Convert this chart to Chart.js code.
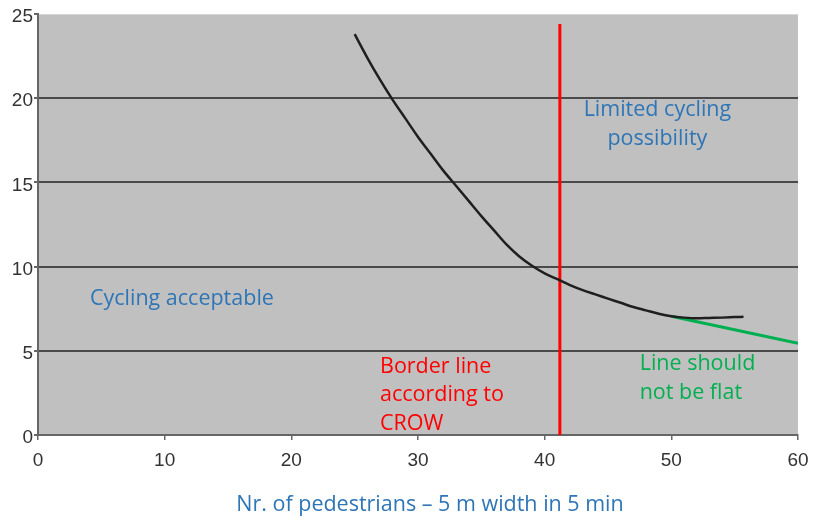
<!DOCTYPE html>
<html>
<head>
<meta charset="utf-8">
<script src="https://cdn.jsdelivr.net/npm/chart.js@4"></script>
<style>
  html, body { margin: 0; padding: 0; background: #fff; }
  #wrap { width: 824px; height: 521px; }
</style>
</head>
<body>
<div id="wrap"><canvas id="chart" width="824" height="521"></canvas></div>
<script>
// --- data ---
const curveX = [25, 26, 27, 28, 29, 30, 31, 32, 33, 34, 35, 36, 37, 38, 39, 40, 41, 42, 43, 44, 45, 46, 47, 48, 49, 50, 51, 52, 53, 54, 55, 55.7];
const curveY = [23.8, 22.4, 21.1, 19.9, 18.8, 17.7, 16.7, 15.7, 14.8, 13.9, 13.0, 12.15, 11.3, 10.6, 10.05, 9.6, 9.25, 8.9, 8.6, 8.35, 8.1, 7.85, 7.6, 7.4, 7.2, 7.05, 6.97, 6.93, 6.95, 6.97, 7.0, 7.02];
const borderX = [41.2, 41.2];
const borderY = [0, 24.4];
const greenX = [50, 60];
const greenY = [7.05, 5.45];

const xTicks = [0, 10, 20, 30, 40, 50, 60];
const yTicks = [0, 5, 10, 15, 20, 25];

const xTitle = 'Nr. of pedestrians \u2013 5 m width in 5 min';

// text boxes inside the plot
const notes = [
    { lines: ['Limited cycling', 'possibility'], x: 48.9, y: 19.3, color: '#2e75b6', align: 'center' },
    { lines: ['Cycling acceptable'], x: 4.1, y: 8.1, color: '#2e75b6', align: 'left' },
    { lines: ['Border line', 'according to', 'CROW'], x: 27.0, y: 4.05, color: '#ff0000', align: 'left' },
    { lines: ['Line should', 'not be flat'], x: 47.5, y: 4.2, color: '#00b050', align: 'left' }
];

const pts = (xs, ys) => xs.map((x, i) => ({ x, y: ys[i] }));

const textFont = '21.5px "Open Sans", Lato, sans-serif';
const tickFont = { size: 19, family: '"Liberation Sans", Arial, sans-serif' };

const plotBackground = {
    id: 'plotBackground',
    beforeDraw(chart) {
        const { ctx, chartArea: a } = chart;
        ctx.save();
        ctx.fillStyle = '#c0c0c0';
        ctx.fillRect(a.left, a.top, a.right - a.left, a.bottom - a.top);
        ctx.strokeStyle = '#d8d8d8';
        ctx.lineWidth = 1;
        ctx.beginPath();
        ctx.moveTo(a.left, a.top + 0.5);
        ctx.lineTo(a.right, a.top + 0.5);
        ctx.stroke();
        ctx.restore();
    }
};

const notesPlugin = {
    id: 'notes',
    afterDraw(chart) {
        const { ctx, scales: { x, y }, chartArea: a } = chart;
        ctx.save();
        ctx.font = textFont;
        ctx.textBaseline = 'middle';
        notes.forEach(n => {
            ctx.fillStyle = n.color;
            ctx.textAlign = n.align;
            const px = x.getPixelForValue(n.x);
            const py = y.getPixelForValue(n.y);
            n.lines.forEach((line, i) => ctx.fillText(line, px, py + i * 28.5));
        });
        // axis title
        ctx.fillStyle = '#2e75b6';
        ctx.textAlign = 'center';
        ctx.fillText(xTitle, (a.left + a.right) / 2 + 12, 505);
        ctx.restore();
    }
};

new Chart(document.getElementById('chart'), {
    type: 'line',
    data: {
        datasets: [
            {
                data: pts(curveX, curveY),
                borderColor: '#1f1f1f',
                borderWidth: 2.5,
                pointRadius: 0,
                cubicInterpolationMode: 'monotone'
            },
            {
                data: pts(borderX, borderY),
                borderColor: '#ff0000',
                borderWidth: 3,
                pointRadius: 0
            },
            {
                data: pts(greenX, greenY),
                borderColor: '#00b050',
                borderWidth: 3,
                pointRadius: 0
            }
        ]
    },
    options: {
        responsive: false,
        animation: false,
        layout: { padding: { top: 14, right: 26, left: 0, bottom: 0 } },
        plugins: { legend: { display: false }, tooltip: { enabled: false } },
        scales: {
            x: {
                type: 'linear',
                min: 0,
                max: 60,
                afterBuildTicks: s => { s.ticks = xTicks.map(v => ({ value: v })); },
                afterFit: s => { s.height = 86; },
                ticks: { color: '#333', font: tickFont, padding: 9, maxRotation: 0 },
                grid: { color: 'transparent', tickColor: '#666', tickLength: 5, lineWidth: 1.5 },
                border: { display: true, color: '#666', width: 2 }
            },
            y: {
                min: 0,
                max: 25,
                afterBuildTicks: s => { s.ticks = yTicks.map(v => ({ value: v })); },
                afterFit: s => { s.width = 38; },
                ticks: { color: '#333', font: tickFont, padding: 1, labelOffset: 3 },
                grid: {
                    color: c => (c.tick && (c.tick.value === 0 || c.tick.value === 25)) ? 'transparent' : '#4a4a4a',
                    lineWidth: 2,
                    tickColor: '#666',
                    tickLength: 4
                },
                border: { display: true, color: '#666', width: 2 }
            }
        }
    },
    plugins: [plotBackground, notesPlugin]
});
</script>
</body>
</html>
